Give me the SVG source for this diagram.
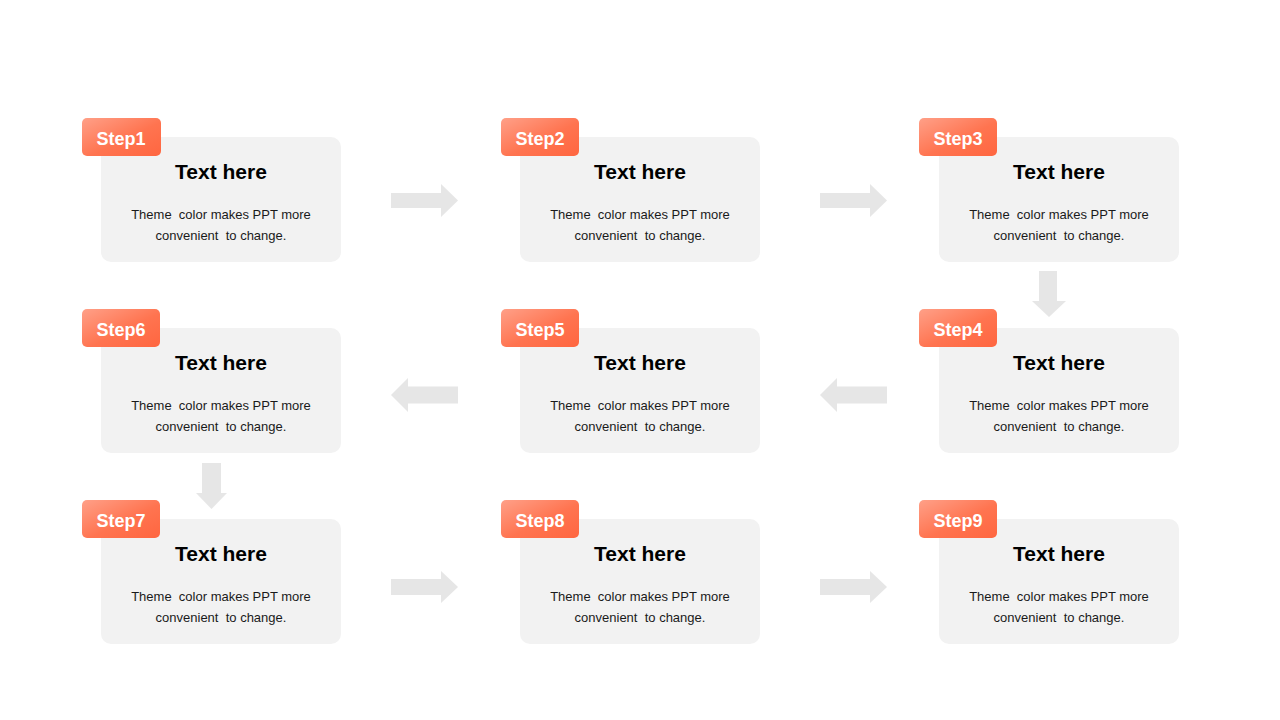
<svg xmlns="http://www.w3.org/2000/svg" width="1280" height="720" viewBox="0 0 1280 720">
<defs>
<linearGradient id="bg" x1="0" y1="0" x2="1" y2="1">
<stop offset="0" stop-color="#FFA088"/>
<stop offset="0.55" stop-color="#FF7450"/>
<stop offset="1" stop-color="#FF6640"/>
</linearGradient>
<style>
.box{fill:#F2F2F2}
.badge{fill:url(#bg)}
.arr{fill:#E6E6E6}
.st{font-family:"Liberation Sans",Arial,sans-serif;font-weight:bold;font-size:18px;fill:#FFFFFF;text-anchor:middle}
.tt{font-family:"Liberation Sans",Arial,sans-serif;font-weight:bold;font-size:21px;fill:#000000;text-anchor:middle}
.bd{font-family:"Liberation Sans",Arial,sans-serif;font-size:13px;fill:#1A1A1A;text-anchor:middle;white-space:pre}
</style>
</defs>
<rect width="1280" height="720" fill="#FFFFFF"/>

<g id="connectors">
<path class="arr" d="M391,193 H441 V184 L458,200.5 L441,217 V208 H391 Z"/>
<path class="arr" d="M820,193 H870 V184 L887,200.5 L870,217 V208 H820 Z"/>
<path class="arr" d="M1039,271 H1057 V301 H1066 L1049,317 L1032,301 H1039 Z"/>
<path class="arr" d="M887,386.5 H837 V378 L820,395 L837,412 V403.5 H887 Z"/>
<path class="arr" d="M458,386.5 H408 V378 L391,395 L408,412 V403.5 H458 Z"/>
<path class="arr" d="M202,463 H221 V493 H227 L211.5,509 L196,493 H202 Z"/>
<path class="arr" d="M391,579 H441 V571 L458,587 L441,603 V595 H391 Z"/>
<path class="arr" d="M820,579 H870 V571 L887,587 L870,603 V595 H820 Z"/>
</g>

<g id="step1">
<rect class="box" x="101" y="137" width="240" height="125" rx="10"/>
<rect class="badge" x="82" y="118" width="79" height="38" rx="5"/>
<text class="st" x="121" y="144.5">Step1</text>
<text class="tt" x="221" y="179">Text here</text>
<text class="bd" x="221" y="219">Theme  color makes PPT more</text>
<text class="bd" x="221" y="240">convenient  to change.</text>
</g>
<g id="step2">
<rect class="box" x="520" y="137" width="240" height="125" rx="10"/>
<rect class="badge" x="501" y="118" width="78" height="38" rx="5"/>
<text class="st" x="540" y="144.5">Step2</text>
<text class="tt" x="640" y="179">Text here</text>
<text class="bd" x="640" y="219">Theme  color makes PPT more</text>
<text class="bd" x="640" y="240">convenient  to change.</text>
</g>
<g id="step3">
<rect class="box" x="939" y="137" width="240" height="125" rx="10"/>
<rect class="badge" x="919" y="118" width="78" height="38" rx="5"/>
<text class="st" x="958" y="144.5">Step3</text>
<text class="tt" x="1059" y="179">Text here</text>
<text class="bd" x="1059" y="219">Theme  color makes PPT more</text>
<text class="bd" x="1059" y="240">convenient  to change.</text>
</g>
<g id="step4">
<rect class="box" x="939" y="328" width="240" height="125" rx="10"/>
<rect class="badge" x="919" y="309" width="78" height="38" rx="5"/>
<text class="st" x="958" y="335.5">Step4</text>
<text class="tt" x="1059" y="370">Text here</text>
<text class="bd" x="1059" y="410">Theme  color makes PPT more</text>
<text class="bd" x="1059" y="431">convenient  to change.</text>
</g>
<g id="step5">
<rect class="box" x="520" y="328" width="240" height="125" rx="10"/>
<rect class="badge" x="501" y="309" width="78" height="38" rx="5"/>
<text class="st" x="540" y="335.5">Step5</text>
<text class="tt" x="640" y="370">Text here</text>
<text class="bd" x="640" y="410">Theme  color makes PPT more</text>
<text class="bd" x="640" y="431">convenient  to change.</text>
</g>
<g id="step6">
<rect class="box" x="101" y="328" width="240" height="125" rx="10"/>
<rect class="badge" x="82" y="309" width="78" height="38" rx="5"/>
<text class="st" x="121" y="335.5">Step6</text>
<text class="tt" x="221" y="370">Text here</text>
<text class="bd" x="221" y="410">Theme  color makes PPT more</text>
<text class="bd" x="221" y="431">convenient  to change.</text>
</g>
<g id="step7">
<rect class="box" x="101" y="519" width="240" height="125" rx="10"/>
<rect class="badge" x="82" y="500" width="78" height="38" rx="5"/>
<text class="st" x="121" y="526.5">Step7</text>
<text class="tt" x="221" y="561">Text here</text>
<text class="bd" x="221" y="601">Theme  color makes PPT more</text>
<text class="bd" x="221" y="622">convenient  to change.</text>
</g>
<g id="step8">
<rect class="box" x="520" y="519" width="240" height="125" rx="10"/>
<rect class="badge" x="501" y="500" width="78" height="38" rx="5"/>
<text class="st" x="540" y="526.5">Step8</text>
<text class="tt" x="640" y="561">Text here</text>
<text class="bd" x="640" y="601">Theme  color makes PPT more</text>
<text class="bd" x="640" y="622">convenient  to change.</text>
</g>
<g id="step9">
<rect class="box" x="939" y="519" width="240" height="125" rx="10"/>
<rect class="badge" x="919" y="500" width="78" height="38" rx="5"/>
<text class="st" x="958" y="526.5">Step9</text>
<text class="tt" x="1059" y="561">Text here</text>
<text class="bd" x="1059" y="601">Theme  color makes PPT more</text>
<text class="bd" x="1059" y="622">convenient  to change.</text>
</g>
</svg>
